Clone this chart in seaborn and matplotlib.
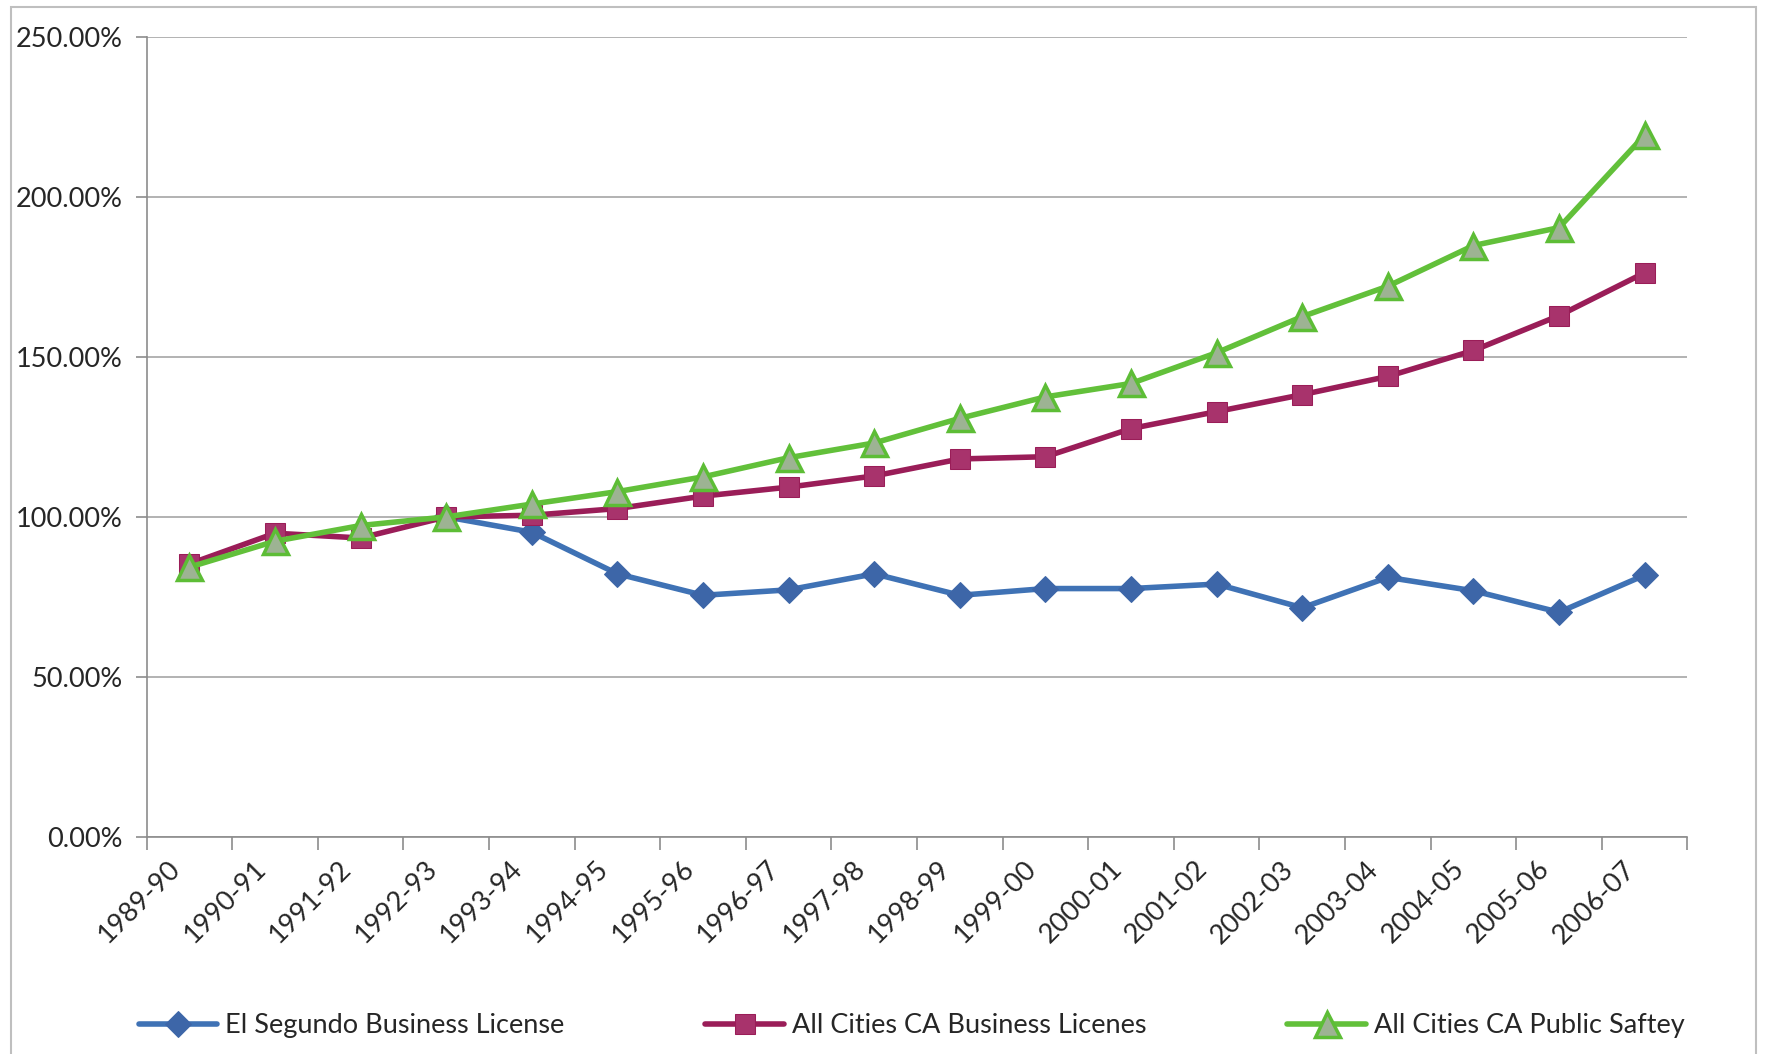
import numpy as np
import pandas as pd
import seaborn as sns
import matplotlib.pyplot as plt
from matplotlib.ticker import PercentFormatter
from matplotlib.transforms import ScaledTranslation
from matplotlib.patches import Rectangle

# Datos (porcentaje respecto a 1992-93)
anios = ["1989-90", "1990-91", "1991-92", "1992-93", "1993-94", "1994-95",
         "1995-96", "1996-97", "1997-98", "1998-99", "1999-00", "2000-01",
         "2001-02", "2002-03", "2003-04", "2004-05", "2005-06", "2006-07"]

el_segundo = [np.nan, np.nan, np.nan, 100.0, 95.2, 82.2, 75.5, 77.2, 82.2,
              75.5, 77.6, 77.6, 79.0, 71.6, 81.1, 76.9, 70.2, 81.8]
ca_business = [85.3, 94.9, 93.4, 100.0, 100.5, 102.6, 106.5, 109.3, 112.8,
               118.1, 118.8, 127.6, 132.9, 138.2, 143.9, 152.0, 162.9, 176.3]
ca_safety = [84.3, 92.4, 97.3, 100.0, 104.0, 107.9, 112.5, 118.5, 123.1,
             130.8, 137.5, 141.7, 151.3, 162.6, 172.1, 184.8, 190.4, 219.3]

nombres = ["El Segundo Business License", "All Cities CA Business Licenes",
           "All Cities CA Public Saftey"]

df = pd.DataFrame({"idx": np.arange(len(anios)), "anio": anios,
                   nombres[0]: el_segundo, nombres[1]: ca_business,
                   nombres[2]: ca_safety})

sns.set_style("white")
plt.rcParams["font.family"] = ["Lato", "DejaVu Sans"]
fs = 19.5

fig = plt.figure(figsize=(17.67, 10.54), dpi=100)
ax = fig.add_axes([0.083, 0.206, 0.872, 0.759])

# Series con el estilo de Excel
sns.lineplot(data=df, x="idx", y=nombres[0], ax=ax, color="#3F72B5", linewidth=4,
             marker="D", markersize=13, markerfacecolor="#3D66A8",
             markeredgecolor="#3D66A8", label=nombres[0])
sns.lineplot(data=df, x="idx", y=nombres[1], ax=ax, color="#9A1D58", linewidth=4,
             marker="s", markersize=14, markerfacecolor="#A8336C",
             markeredgecolor="#9A1D58", label=nombres[1])
sns.lineplot(data=df, x="idx", y=nombres[2], ax=ax, color="#62C03A", linewidth=4,
             marker="^", markersize=18, markerfacecolor="#9DB393",
             markeredgecolor="#5DBD36", markeredgewidth=2.5, label=nombres[2])

# Ejes
ax.set_xlim(-0.5, len(anios) - 0.5)
ax.set_ylim(0, 250)
ax.set_yticks(np.arange(0, 251, 50))
ax.yaxis.set_major_formatter(PercentFormatter(xmax=100, decimals=2))
ax.grid(axis="y", color="#A6A6A6", linewidth=1.2)
ax.grid(axis="x", visible=False)

ax.set_xticks(np.arange(-0.5, len(anios), 1))
ax.set_xticklabels([])
ax.set_xticks(np.arange(len(anios)), minor=True)
ax.set_xticklabels(anios, minor=True, rotation=45, ha="right",
                   rotation_mode="anchor", fontsize=fs)
ax.tick_params(axis="x", which="major", length=9, width=1.2, color="#8C8C8C",
               direction="out", bottom=True)
ax.tick_params(axis="x", which="minor", length=0, pad=14)
ax.tick_params(axis="y", length=8, width=1.2, color="#8C8C8C", direction="out",
               left=True, pad=9, labelsize=fs)
for lbl in ax.get_xticklabels(minor=True):
    lbl.set_transform(lbl.get_transform() + ScaledTranslation(-0.22, 0, fig.dpi_scale_trans))

for s in ["top", "right"]:
    ax.spines[s].set_visible(False)
for s in ["left", "bottom"]:
    ax.spines[s].set_color("#8C8C8C")
    ax.spines[s].set_linewidth(1.2)

ax.set_xlabel("")
ax.set_ylabel("")

# Leyenda inferior
handles, labels = ax.get_legend_handles_labels()
ax.get_legend().remove()
fig.legend(handles, labels, loc="center", bbox_to_anchor=(0.516, 0.027), ncol=3,
           frameon=False, fontsize=fs, handlelength=2.9, handletextpad=0.3,
           columnspacing=5.2)

# Borde del área del gráfico
fig.patches.append(Rectangle((0.006, -0.02), 0.988, 1.013, transform=fig.transFigure,
                             fill=False, edgecolor="#BFBFBF", linewidth=1.5))

plt.savefig("out.png", dpi=100)
